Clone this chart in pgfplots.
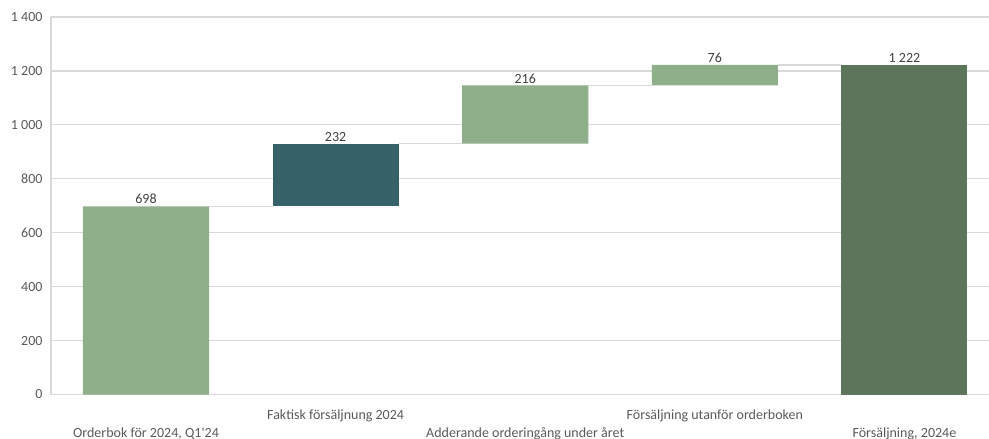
\documentclass[border=0pt]{standalone}
\usepackage{pgfplots}
\pgfplotsset{compat=1.18}
\usepackage{fontspec}
\setmainfont{Carlito}
\definecolor{lightg}{HTML}{8FAE8A}
\definecolor{tealb}{HTML}{36626A}
\definecolor{darkg}{HTML}{5B765A}
\definecolor{gridgray}{HTML}{D9D9D9}
\definecolor{ticktext}{HTML}{595959}
\definecolor{labtext}{HTML}{404040}
\begin{document}
\begin{tikzpicture}
\pgfplotsset{
  common/.style={
    at={(0,0)}, anchor=south west,
    scale only axis, width=938bp, height=377.5bp,
    xmin=-0.501, xmax=4.446, ymin=0, ymax=1400,
  }
}
\begin{axis}[common,
  ybar stacked, bar width=0.665,
  axis lines=left, axis line style={-, draw=gridgray, line width=1.2bp},
  ymajorgrids, grid style={draw=gridgray, line width=1.2bp},
  major tick length=0pt,
  ytick={0,200,...,1400},
  /pgf/number format/.cd, assume math mode=true, 1000 sep={\ }, /pgfplots/.cd,
  yticklabel style={font=\fontsize{14bp}{16bp}\selectfont, text=ticktext, xshift=-5bp},
  xtick={0,1,2,3,4},
  xticklabels={{Orderbok för 2024, Q1\textquotesingle 24},
               {\raisebox{18bp}{Faktisk försäljnung 2024}},
               {Adderande orderingång under året},
               {\raisebox{18bp}{Försäljning utanför orderboken}},
               {Försäljning, 2024e}},
  xticklabel style={font=\fontsize{14bp}{16bp}\selectfont, text=ticktext, anchor=base, yshift=-42.5bp},
]
% invisible base
\addplot[draw=none, fill=none] coordinates {(0,0) (1,698) (2,930) (3,1146) (4,0)};
% light green increments
\addplot[draw=none, fill=lightg] coordinates {(0,698) (1,0) (2,216) (3,76) (4,0)};
% teal
\addplot[draw=none, fill=tealb] coordinates {(0,0) (1,232) (2,0) (3,0) (4,0)};
% dark green total
\addplot[draw=none, fill=darkg] coordinates {(0,0) (1,0) (2,0) (3,0) (4,1222)};
\end{axis}
\begin{axis}[common, hide axis, unbounded coords=jump,
  /pgf/number format/.cd, assume math mode=true, 1000 sep={\ }, /pgfplots/.cd]
\addplot[gridgray, line width=1.2bp] coordinates {
  (0.3325,698) (0.6675,698) (nan,nan)
  (1.3325,930) (1.6675,930) (nan,nan)
  (2.3325,1146) (2.6675,1146) (nan,nan)
  (3.3325,1222) (3.6675,1222)};
\addplot[only marks, mark=none, point meta=explicit,
  nodes near coords,
  nodes near coords style={font=\fontsize{14bp}{16bp}\selectfont, text=labtext, anchor=south, inner sep=2bp}]
  coordinates {(0,698) [698] (1,930) [232] (2,1146) [216] (3,1222) [76] (4,1222) [1222]};
\end{axis}
\pgfresetboundingbox
\useasboundingbox (-51bp,-44.5bp) rectangle (938bp,394.5bp);
\end{tikzpicture}
\end{document}
